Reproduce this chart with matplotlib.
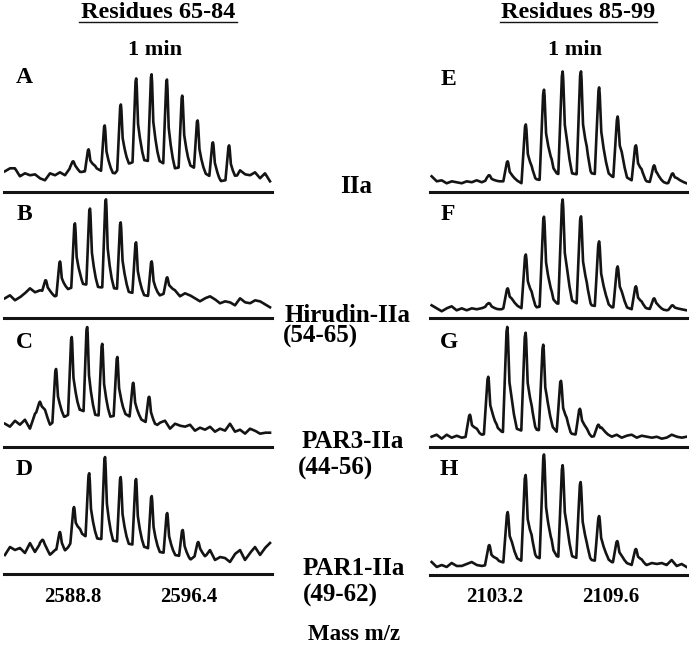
import matplotlib
matplotlib.use('Agg')
import matplotlib.pyplot as plt
import numpy as np
from matplotlib.lines import Line2D

plt.rcParams['font.family'] = ['Liberation Serif', 'DejaVu Serif']
plt.rcParams['font.weight'] = 'bold'

# Eixos de massa (m/z) de cada coluna
left_range  = (2584.40, 2601.66)   # faixa do traco, residuos 65-84
right_range = (2099.71, 2113.76)   # faixa do traco, residuos 85-99
left_ticks  = [2588.8, 2596.4]
right_ticks = [2103.2, 2109.6]

# Fundo (ruido + elevacao entre picos), amostrado em passos regulares na faixa do traco
bg_A = [21, 24, 24, 16, 19, 17, 18, 14, 12, 19, 17, 20, 17, 24, 24, 20, 21, 22, 25, 22,
        20, 20, 19, 25, 28, 29, 31, 33, 32, 31, 32, 31, 28, 26, 24, 25, 27, 27, 24, 21,
        19, 16, 14, 11, 12, 13, 13, 22, 18, 17, 20, 14, 19, 11]
bg_B = [20, 23, 18, 21, 25, 30, 26, 28, 27, 25, 22, 24, 28, 30, 32, 35, 34, 33, 32, 31,
        31, 30, 30, 29, 28, 26, 25, 24, 23, 22, 22, 23, 25, 27, 28, 22, 25, 23, 20, 17,
        20, 22, 19, 15, 17, 16, 13, 20, 16, 15, 18, 17, 14, 11]
bg_C = [23, 20, 26, 22, 27, 18, 33, 38, 36, 22, 26, 30, 30, 33, 36, 37, 35, 33, 32, 31,
        31, 30, 31, 33, 33, 30, 29, 28, 25, 23, 20, 24, 26, 18, 23, 21, 20, 22, 16, 19,
        17, 20, 15, 18, 16, 23, 15, 17, 13, 18, 16, 13, 14, 14]
bg_D = [19, 27, 24, 26, 21, 31, 22, 30, 27, 19, 24, 26, 21, 30, 36, 42, 38, 37, 36, 35,
        35, 34, 33, 32, 31, 30, 29, 28, 27, 25, 23, 22, 21, 20, 19, 18, 16, 14, 18, 20,
        17, 24, 14, 17, 16, 12, 20, 24, 14, 21, 27, 19, 26, 31]
bg_E = [16, 11, 12, 9, 11, 10, 9, 11, 10, 12, 10, 12, 11, 11, 11, 11, 12, 12, 9, 11,
        17, 13, 12, 22, 27, 19, 17, 26, 19, 18, 20, 29, 19, 18, 24, 21, 16, 14, 24, 15,
        12, 12, 17, 11, 10, 14, 11, 9, 10, 12, 11, 9]
bg_F = [13, 10, 7, 10, 12, 8, 10, 8, 10, 9, 10, 12, 10, 9, 9, 12, 15, 13, 10, 12,
        18, 11, 12, 18, 21, 15, 14, 24, 18, 15, 18, 22, 13, 12, 17, 16, 11, 11, 16, 11,
        9, 10, 13, 10, 9, 11, 9, 8, 9, 9, 9, 8]
bg_G = [10, 12, 8, 12, 9, 11, 9, 10, 12, 16, 12, 13, 18, 20, 15, 14, 22, 18, 16, 20,
        27, 17, 16, 24, 21, 15, 14, 20, 13, 12, 16, 16, 10, 11, 16, 13, 10, 12, 9, 11,
        12, 9, 11, 10, 9, 10, 8, 9, 12, 10, 9, 10]
bg_H = [13, 8, 10, 8, 12, 9, 9, 11, 13, 10, 9, 10, 12, 15, 13, 12, 20, 17, 14, 16,
        27, 18, 16, 24, 28, 19, 17, 26, 19, 17, 20, 22, 15, 14, 18, 17, 13, 12, 14, 12,
        10, 11, 13, 10, 12, 11, 12, 10, 15, 9, 11, 8]

# Picos isotopicos: posicao (m/z) e altura
pk_A_mz = [2588.85, 2589.85, 2590.9, 2591.95, 2592.95, 2593.95, 2594.95, 2595.95, 2596.95, 2597.95, 2599.0]
pk_A_h  = [31, 43, 67, 88, 114, 118, 113, 97, 72, 50, 47]
pk_B_mz = [2587.07, 2587.99, 2588.96, 2589.94, 2590.98, 2591.94, 2592.94, 2593.96, 2594.97]
pk_B_h  = [38, 57, 95, 110, 119, 96, 76, 57, 41]
pk_C_mz = [2586.68, 2587.73, 2588.75, 2589.76, 2590.74, 2591.72, 2592.76, 2593.80]
pk_C_h  = [45, 78, 110, 120, 103, 90, 64, 50]
pk_D_mz = [2586.88, 2587.99, 2588.90, 2589.89, 2590.92, 2591.94, 2592.94, 2593.96, 2594.97, 2595.98, 2596.99]
pk_D_h  = [34, 42, 67, 101, 117, 97, 95, 78, 61, 44, 32]
pk_E_mz = [2102.9, 2103.9, 2104.9, 2105.9, 2106.93, 2107.94, 2108.94, 2109.96, 2110.97, 2111.97, 2112.99]
pk_E_h  = [17, 31, 68, 103, 121, 121, 105, 76, 47, 27, 19]
pk_F_mz = [2102.9, 2103.9, 2104.9, 2105.9, 2106.93, 2107.94, 2108.94, 2109.96, 2110.97, 2111.97, 2112.99]
pk_F_h  = [15, 30, 64, 102, 119, 102, 77, 52, 32, 20, 13]
pk_G_mz = [2101.82, 2102.83, 2103.88, 2104.89, 2105.86, 2106.84, 2107.88, 2108.89]
pk_G_h  = [32, 70, 120, 114, 102, 66, 38, 22]
pk_H_mz = [2102.89, 2103.9, 2104.89, 2105.9, 2106.93, 2107.92, 2108.94, 2109.94, 2110.97]
pk_H_h  = [30, 63, 100, 121, 110, 93, 59, 34, 26]

labels_mid = ['IIa', 'Hirudin-IIa', '(54-65)', 'PAR3-IIa', '(44-56)', 'PAR1-IIa', '(49-62)']

# Forma de cada pico (subida abrupta, cauda a direita)
shape_dx = [-0.24, -0.05, 0.0, 0.03, 0.11, 0.22, 0.36, 0.52]
shape_f  = [0.0, 0.96, 1.0, 0.92, 0.45, 0.28, 0.12, 0.0]

W, H = 693, 648
fig = plt.figure(figsize=(W / 100, H / 100), dpi=100)


def fx(x):
    return x / W


def fy(y):
    return 1 - y / H


def painel(x0, x1, base, xr, bg, pmz, ph, ticks=None):
    ax = fig.add_axes([fx(x0), fy(base), fx(x1) - fx(x0), 126 / H])
    xb = np.linspace(xr[0], xr[1], len(bg))
    x = np.linspace(xr[0], xr[1], 2000)
    fundo = np.interp(x, xb, bg)
    y = fundo.copy()
    for p, h in zip(pmz, ph):
        b = np.interp(p, xb, bg)
        f = np.interp(x - p, shape_dx, shape_f, left=0, right=0)
        y = np.maximum(y, fundo + (h - b) * f)
    ax.plot(x, y, color='#141414', lw=1.9, solid_joinstyle='round')
    ax.set_ylim(0, 126)
    for s in ['top', 'left', 'right']:
        ax.spines[s].set_visible(False)
    ax.spines['bottom'].set_linewidth(2.2)
    ax.spines['bottom'].set_color('#141414')
    ax.set_yticks([])
    if ticks is None:
        ax.set_xticks([])
    else:
        ax.set_xticks(ticks)
        ax.set_xticklabels([f'{t:.1f}' for t in ticks], fontsize=15, fontweight='bold')
        ax.tick_params(axis='x', length=0, pad=9)
    ax.patch.set_alpha(0)
    return ax


axA = painel(4, 272, 192.3, left_range, bg_A, pk_A_mz, pk_A_h)
axB = painel(4, 272, 318.3, left_range, bg_B, pk_B_mz, pk_B_h)
axC = painel(4, 272, 446.7, left_range, bg_C, pk_C_mz, pk_C_h)
axD = painel(4, 272, 574.0, left_range, bg_D, pk_D_mz, pk_D_h, left_ticks)
for ax in [axA, axB, axC, axD]:
    ax.set_xlim(2584.34, 2601.79)

axE = painel(430, 687, 192.3, right_range, bg_E, pk_E_mz, pk_E_h)
axF = painel(430, 687, 318.3, right_range, bg_F, pk_F_mz, pk_F_h)
axG = painel(430, 687, 446.7, right_range, bg_G, pk_G_mz, pk_G_h)
axH = painel(430, 687, 575.0, right_range, bg_H, pk_H_mz, pk_H_h, right_ticks)
for ax in [axE, axF, axG, axH]:
    ax.set_xlim(2099.62, 2113.78)

# Titulos sublinhados
fig.text(fx(158), fy(18.5), 'Residues 65-84', ha='center', va='baseline', fontsize=17.5)
fig.text(fx(578), fy(18.5), 'Residues 85-99', ha='center', va='baseline', fontsize=17.5)
fig.add_artist(Line2D([fx(79), fx(237)], [fy(21.5), fy(21.5)], color='#141414', lw=1.0))
fig.add_artist(Line2D([fx(500), fx(657)], [fy(21.5), fy(21.5)], color='#141414', lw=1.0))

fig.text(fx(155), fy(55), '1 min', ha='center', va='baseline', fontsize=16)
fig.text(fx(575), fy(55), '1 min', ha='center', va='baseline', fontsize=16)

# Letras dos paineis
letras = [('A', 24, 83), ('B', 24, 220), ('C', 24, 348), ('D', 24, 475),
          ('E', 448, 85), ('F', 448, 220), ('G', 449, 348), ('H', 449, 475)]
for t, x, y in letras:
    fig.text(fx(x), fy(y), t, ha='center', va='baseline', fontsize=17)

# Rotulos do meio
fig.text(fx(356), fy(193), labels_mid[0], ha='center', va='baseline', fontsize=18)
pos_mid = [(285, 322), (283, 343), (302, 448), (298, 475), (303, 575), (303, 601.5)]
for t, (x, y) in zip(labels_mid[1:], pos_mid):
    fig.text(fx(x), fy(y), t, ha='left', va='baseline', fontsize=18)

fig.text(fx(308), fy(640), 'Mass m/z', ha='left', va='baseline', fontsize=16.5)

fig.savefig('out.png', dpi=100, facecolor='white')
